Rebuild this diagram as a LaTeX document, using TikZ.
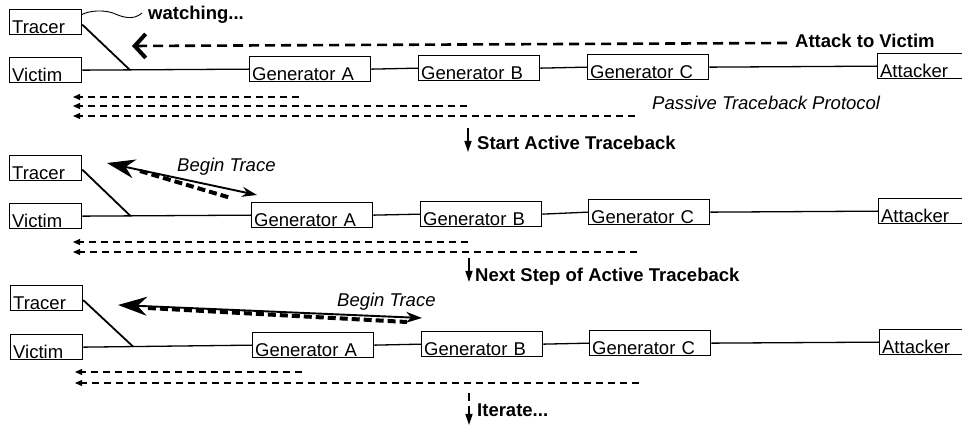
\documentclass[tikz,border=0pt]{standalone}
\usepackage{fontspec}
\setmainfont{Liberation Sans}
\usetikzlibrary{arrows.meta,calc}
\begin{document}
\begin{tikzpicture}[x=1pt,y=-1pt,
  box/.style={draw, line width=1.3pt, anchor=north west, inner xsep=2.5pt, inner ysep=1pt,
    text height=22.5pt, text depth=0.5pt, align=left, font=\fontsize{18.5}{20}\selectfont},
  conn/.style={line width=1.3pt},
  tline/.style={line width=1.8pt},
  lbl/.style={anchor=base west, inner sep=0pt, font=\fontsize{18.5}{20}\selectfont},
  blbl/.style={lbl, font=\fontsize{18.5}{20}\selectfont\bfseries},
  ilbl/.style={lbl, font=\fontsize{18.5}{20}\selectfont\itshape},
  passive/.style={line width=1.1pt, dash pattern=on 7pt off 5pt, -{Triangle[length=7pt,width=6pt]}},
  attack/.style={line width=2.6pt, dash pattern=on 10pt off 6pt,
    -{Straight Barb[length=11pt,width=24pt,line width=4pt]}},
  traceline/.style={line width=1.9pt},
  tracedash/.style={line width=4pt, dash pattern=on 8pt off 4pt},
  down/.style={line width=1.5pt, -{Triangle[length=11pt,width=7pt]}},
  wavy/.style={line width=0.9pt},
]
\useasboundingbox (0,0) rectangle (962,427);
\fill[white] (0,0) rectangle (962,427);
\clip (0,0) rectangle (962,427);

% ---------- Row 1 ----------
\node[box, text width=67pt]  (tr1) at (9,9)    {Tracer};
\node[box, text width=67pt]  (vi1) at (9,57)   {Victim};
\node[box, text width=116pt] (ga1) at (249,56) {Generator A};
\node[box, text width=116pt] (gb1) at (418,55) {Generator B};
\node[box, text width=116pt] (gc1) at (587,54) {Generator C};
\node[box, text width=93pt]  (at1) at (877,53) {Attacker};
\draw[conn] (vi1.east) -- (ga1.west);
\draw[conn] (ga1.east) -- (gb1.west);
\draw[conn] (gb1.east) -- (gc1.west);
\draw[conn] (gc1.east) -- (at1.west);
\coordinate (j1) at ($(vi1.east)!0.285!(ga1.west)$);
\draw[tline] ($(tr1.east)+(0,2.5)$) -- (j1);

\node[blbl] (wat) at (148,20) {watching...};
\coordinate (w0) at (81,15);
\coordinate (w1) at (142,13);
\draw[wavy] (w0) .. controls (90,10) and (104,10) .. (113,13) .. controls (122,17) and (133,21) .. (w1);

\node[blbl] (atk) at (795,48) {Attack to Victim};
\coordinate (atkS) at (787,43);
\coordinate (atkE) at (132,46);
\draw[attack] (atkS) -- (atkE);

\coordinate (p1aS) at (299,97);  \coordinate (p1aE) at (73,97);
\coordinate (p1bS) at (467,106); \coordinate (p1bE) at (73,106);
\coordinate (p1cS) at (635,116); \coordinate (p1cE) at (73,116);
\draw[passive] (p1aS) -- (p1aE);
\draw[passive] (p1bS) -- (p1bE);
\draw[passive] (p1cS) -- (p1cE);
\node[ilbl] (pas) at (652,110) {Passive Traceback Protocol};

\coordinate (s1S) at (468,128); \coordinate (s1E) at (468,152);
\draw[down] (s1S) -- (s1E);
\node[blbl] (sat) at (477,150) {Start Active Traceback};

% ---------- Row 2 ----------
\node[box, text width=67pt]  (tr2) at (9,155)   {Tracer};
\node[box, text width=67pt]  (vi2) at (9,203)   {Victim};
\node[box, text width=116pt] (ga2) at (251,202) {Generator A};
\node[box, text width=116pt] (gb2) at (420,201) {Generator B};
\node[box, text width=116pt] (gc2) at (588,199) {Generator C};
\node[box, text width=93pt]  (at2) at (878,198) {Attacker};
\draw[conn] (vi2.east) -- (ga2.west);
\draw[conn] (ga2.east) -- (gb2.west);
\draw[conn] (gb2.east) -- (gc2.west);
\draw[conn] (gc2.east) -- (at2.west);
\coordinate (j2) at ($(vi2.east)!0.285!(ga2.west)$);
\draw[tline] ($(tr2.east)+(0,1.5)$) -- (j2);

\coordinate (b2R) at (257,195); \coordinate (b2L) at (107,163);
\draw[traceline, {Stealth[length=15pt,width=10pt]}-{Stealth[length=28pt,width=19pt]}] (b2R) -- (b2L);
\coordinate (d2L) at (140,171); \coordinate (d2R) at (231,198);
\draw[tracedash] (d2L) -- (d2R);
\node[ilbl] (bt2) at (177,172) {Begin Trace};

\coordinate (p2aS) at (468,242); \coordinate (p2aE) at (73,242);
\coordinate (p2bS) at (637,252); \coordinate (p2bE) at (73,252);
\draw[passive] (p2aS) -- (p2aE);
\draw[passive] (p2bS) -- (p2bE);

\coordinate (s2S) at (469,258); \coordinate (s2E) at (469,282);
\draw[down] (s2S) -- (s2E);
\node[blbl] (nst) at (475,282) {Next Step of Active Traceback};

% ---------- Row 3 ----------
\node[box, text width=67pt]  (tr3) at (10,285)  {Tracer};
\node[box, text width=67pt]  (vi3) at (10,334)  {Victim};
\node[box, text width=116pt] (ga3) at (252,332) {Generator A};
\node[box, text width=116pt] (gb3) at (421,331) {Generator B};
\node[box, text width=116pt] (gc3) at (589,330) {Generator C};
\node[box, text width=93pt]  (at3) at (879,329) {Attacker};
\draw[conn] (vi3.east) -- (ga3.west);
\draw[conn] (ga3.east) -- (gb3.west);
\draw[conn] (gb3.east) -- (gc3.west);
\draw[conn] (gc3.east) -- (at3.west);
\coordinate (j3) at ($(vi3.east)!0.295!(ga3.west)$);
\draw[tline] ($(tr3.east)+(0,2)$) -- (j3);

\coordinate (b3R) at (422,318); \coordinate (b3L) at (118,305);
\draw[traceline, {Stealth[length=16pt,width=11pt]}-{Stealth[length=29pt,width=19pt]}] (b3R) -- (b3L);
\coordinate (d3L) at (148,308); \coordinate (d3R) at (407,322);
\draw[tracedash] (d3L) -- (d3R);
\node[ilbl] (bt3) at (337,307) {Begin Trace};

\coordinate (p3aS) at (302,372); \coordinate (p3aE) at (75,372);
\coordinate (p3bS) at (639,383); \coordinate (p3bE) at (75,383);
\draw[passive] (p3aS) -- (p3aE);
\draw[passive] (p3bS) -- (p3bE);

\coordinate (s3S) at (469,393); \coordinate (s3E) at (469,425);
\draw[down, dash pattern=on 8pt off 5pt] (s3S) -- (s3E);
\node[blbl] (itr) at (477,417) {Iterate...};
\end{tikzpicture}
\end{document}
